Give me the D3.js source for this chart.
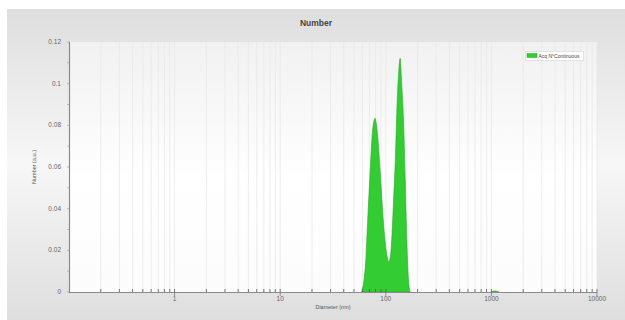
<!DOCTYPE html>
<html>
<head>
<meta charset="utf-8">
<script src="https://cdn.jsdelivr.net/npm/d3@7"></script>
<style>
  html, body { margin: 0; padding: 0; background: #ffffff; }
  svg { display: block; font-family: "Liberation Sans", Arial, sans-serif; }
</style>
</head>
<body>
<svg id="chart" width="625" height="320"></svg>
<script>
// Size distribution by number (DLS)
const diameters = [59.2, 62.2, 64.4, 67.6, 71.1, 74.8, 76.8, 79.4, 81.1, 83.4, 88.5, 94.5, 100.2, 107,
  112.5, 118.2, 123.6, 128.3, 131.9, 136.8, 141.4, 147, 152.7, 158.4, 164, 170.2,
  990, 1020, 1060, 1100, 1140, 1180];
const numberValues = [0, 0.006, 0.014, 0.036, 0.058, 0.077, 0.0815, 0.0834, 0.081, 0.076, 0.058, 0.035, 0.021, 0.0145,
  0.021, 0.043, 0.066, 0.092, 0.104, 0.1122, 0.100, 0.083, 0.055, 0.024, 0.006, 0,
  0, 0.0003, 0.0005, 0.0005, 0.0003, 0];
const seriesName = "Acq N°Continuous";
const yTicks = [0, 0.02, 0.04, 0.06, 0.08, 0.1, 0.12];
const xMajorTicks = [1, 10, 100, 1000, 10000];

const svg = d3.select("#chart");
const W = 625, H = 320;
const plot = { left: 69, right: 597, top: 42, bottom: 292 };

const defs = svg.append("defs");
const frameGrad = defs.append("linearGradient").attr("id", "frameGrad")
  .attr("x1", 0).attr("y1", 0).attr("x2", 0).attr("y2", 1);
frameGrad.append("stop").attr("offset", "0%").attr("stop-color", "#dedede");
frameGrad.append("stop").attr("offset", "50%").attr("stop-color", "#f7f7f7");
frameGrad.append("stop").attr("offset", "100%").attr("stop-color", "#dedede");
const plotGrad = defs.append("linearGradient").attr("id", "plotGrad")
  .attr("x1", 0).attr("y1", 0).attr("x2", 0).attr("y2", 1);
plotGrad.append("stop").attr("offset", "0%").attr("stop-color", "#f1f1f1");
plotGrad.append("stop").attr("offset", "55%").attr("stop-color", "#ffffff");
plotGrad.append("stop").attr("offset", "100%").attr("stop-color", "#fcfcfc");

// Background frame and plot area
svg.append("rect").attr("x", 7).attr("y", 9).attr("width", W - 7).attr("height", H - 9)
  .attr("fill", "url(#frameGrad)");
svg.append("rect").attr("x", plot.left).attr("y", plot.top)
  .attr("width", plot.right - plot.left).attr("height", plot.bottom - plot.top)
  .attr("fill", "url(#plotGrad)");

const x = d3.scaleLog().domain([0.1, 10000]).range([plot.left, plot.right]);
const y = d3.scaleLinear().domain([0, 0.12]).range([plot.bottom, plot.top]);

// Minor positions: 1..9 × each decade
const allTicks = [];
for (let e = -1; e < 4; e++) {
  for (let m = 1; m <= 9; m++) allTicks.push(m * Math.pow(10, e));
}
allTicks.push(10000);

// Vertical grid lines
svg.append("g").selectAll("line").data(allTicks.filter(t => t > 0.1)).join("line")
  .attr("x1", d => x(d)).attr("x2", d => x(d))
  .attr("y1", plot.top).attr("y2", plot.bottom)
  .attr("stroke", "#e9e9e9").attr("stroke-width", 0.8);

// Distribution area
const data = diameters.map((d, i) => ({ d, v: numberValues[i] }));
const area = d3.area()
  .x(p => x(p.d)).y0(y(0)).y1(p => y(p.v))
  .curve(d3.curveMonotoneX);
svg.append("path").datum(data.slice(0, 26)).attr("d", area)
  .attr("fill", "#33cc33").attr("stroke", "#2aa82a").attr("stroke-width", 0.6);
svg.append("path").datum(data.slice(26)).attr("d", area)
  .attr("fill", "#33cc33").attr("stroke", "#2aa82a").attr("stroke-width", 0.6);

// X axis
const xAxisG = svg.append("g");
xAxisG.append("line").attr("x1", plot.left).attr("x2", plot.right)
  .attr("y1", plot.bottom + 0.5).attr("y2", plot.bottom + 0.5)
  .attr("stroke", "#8a8a8a").attr("stroke-width", 1.2);
xAxisG.selectAll("line.minor").data(allTicks.filter(t => t > 0.1)).join("line").attr("class", "minor")
  .attr("x1", d => x(d)).attr("x2", d => x(d))
  .attr("y1", plot.bottom - 3).attr("y2", plot.bottom)
  .attr("stroke", "#555").attr("stroke-width", 0.8);
xAxisG.selectAll("line.major").data(xMajorTicks).join("line").attr("class", "major")
  .attr("x1", d => x(d)).attr("x2", d => x(d))
  .attr("y1", plot.bottom).attr("y2", plot.bottom + 4)
  .attr("stroke", "#777").attr("stroke-width", 0.8);
xAxisG.selectAll("text").data(xMajorTicks).join("text")
  .attr("x", d => x(d)).attr("y", plot.bottom + 9)
  .attr("text-anchor", "middle").attr("font-size", 6.5).attr("fill", "#666")
  .text(d => d3.format("d")(d));

// Y axis
const yAxisG = svg.append("g");
yAxisG.append("line").attr("x1", plot.left + 0.5).attr("x2", plot.left + 0.5)
  .attr("y1", plot.top).attr("y2", plot.bottom + 1)
  .attr("stroke", "#8a8a8a").attr("stroke-width", 1.2);
yAxisG.selectAll("line.minor").data(d3.range(0, 0.1201, 0.01)).join("line").attr("class", "minor")
  .attr("x1", plot.left - 2).attr("x2", plot.left)
  .attr("y1", d => y(d)).attr("y2", d => y(d))
  .attr("stroke", "#999").attr("stroke-width", 0.6);
yAxisG.selectAll("text").data(yTicks).join("text")
  .attr("x", plot.left - 8).attr("y", d => y(d) + 2)
  .attr("text-anchor", "end").attr("font-size", 6.5).attr("fill", "#666")
  .text(d => d === 0 ? "0" : String(d));

// Titles
svg.append("text").attr("x", 316).attr("y", 26).attr("text-anchor", "middle")
  .attr("font-size", 8.5).attr("font-weight", "bold").attr("fill", "#444").text("Number");
svg.append("text").attr("x", (plot.left + plot.right) / 2).attr("y", 309)
  .attr("text-anchor", "middle").attr("font-size", 5.5).attr("fill", "#555").text("Diameter (nm)");
svg.append("text").attr("transform", `translate(36,${(plot.top + plot.bottom) / 2}) rotate(-90)`)
  .attr("text-anchor", "middle").attr("font-size", 5.5).attr("fill", "#555").text("Number (a.u.)");

// Legend
const lg = svg.append("g").attr("transform", "translate(525,51)");
lg.append("rect").attr("x", 0.5).attr("y", 0.5).attr("width", 58).attr("height", 9)
  .attr("fill", "#ffffff").attr("stroke", "#dddddd").attr("stroke-width", 0.8);
lg.append("rect").attr("x", 2).attr("y", 2.5).attr("width", 10).attr("height", 4)
  .attr("fill", "#33cc33").attr("stroke", "#2aa82a").attr("stroke-width", 0.5);
lg.append("text").attr("x", 13.5).attr("y", 7).attr("font-size", 5).attr("fill", "#444").text(seriesName);
</script>
</body>
</html>
